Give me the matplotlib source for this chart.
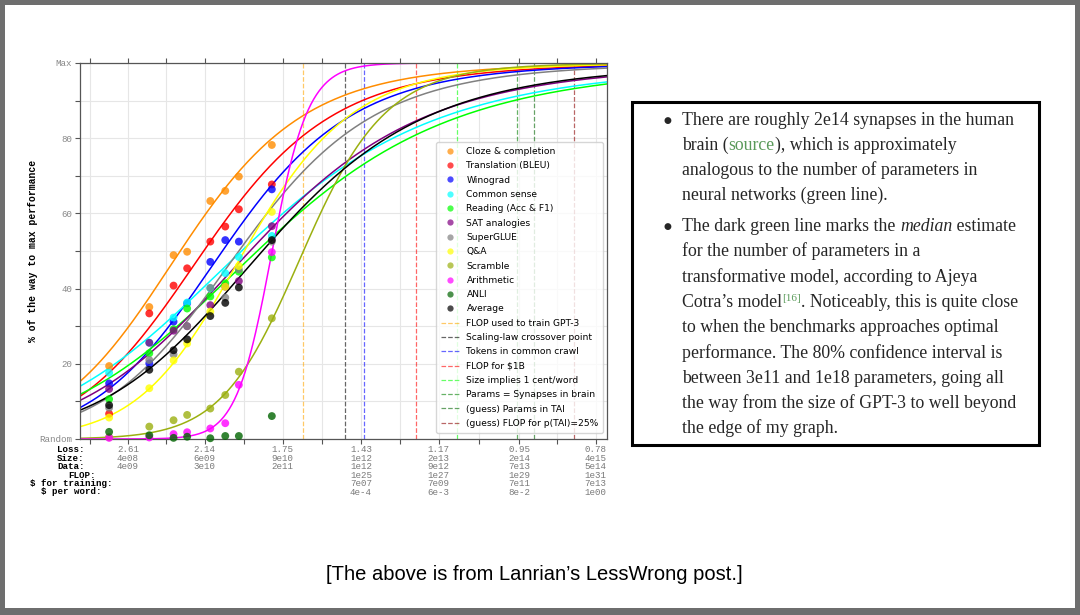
import numpy as np
import matplotlib
matplotlib.use('Agg')
import matplotlib.pyplot as plt
from matplotlib.patches import Rectangle
from matplotlib.lines import Line2D
from matplotlib.font_manager import FontProperties

W, H = 1080, 615

# GPT-3 model sizes, placed on the x axis by their loss
model_loss = [2.74, 2.47, 2.32, 2.24, 2.11, 2.03, 1.96, 1.80]

# benchmark scores, % of the way from random to max
cloze = [19.4, 35.1, 48.9, 49.8, 63.3, 66.0, 69.8, 78.2]
translation = [6.7, 33.4, 40.8, 45.4, 52.5, 56.5, 61.1, 67.7]
winograd = [14.8, 20.1, 31.2, 36.1, 47.1, 52.9, 52.5, 66.4]
common_sense = [17.6, 25.6, 32.3, 36.3, 40.1, 44.1, 48.4, 54.0]
reading = [10.6, 22.8, 29.2, 34.7, 37.9, 41.4, 44.5, 48.3]
sat = [13.3, 25.6, 28.8, 30.0, 35.6, 40.5, 42.0, 56.6]
superglue = [8.3, 21.0, 22.5, 30.0, 40.2, 37.6, 45.1, 52.5]
qa = [5.7, 13.5, 20.9, 25.4, 33.9, 40.5, 46.0, 60.4]
scramble = [0.5, 3.3, 5.0, 6.4, 8.1, 11.7, 17.9, 32.1]
arithmetic = [0.3, 0.4, 1.3, 1.8, 2.8, 4.2, 14.4, 49.7]
anli = [1.9, 1.0, 0.3, 0.6, 0.2, 0.8, 0.8, 6.1]
average = [9.0, 18.4, 23.6, 26.5, 32.7, 36.2, 40.3, 52.9]

names = ['Cloze & completion', 'Translation (BLEU)', 'Winograd', 'Common sense',
         'Reading (Acc & F1)', 'SAT analogies', 'SuperGLUE', 'Q&A', 'Scramble',
         'Arithmetic', 'ANLI', 'Average']
series = [cloze, translation, winograd, common_sense, reading, sat, superglue,
          qa, scramble, arithmetic, anli, average]
colors = ['darkorange', 'red', 'blue', 'cyan', 'lime', 'purple', 'gray',
          'yellow', '#9bb010', 'magenta', 'darkgreen', 'black']

# sigmoid fits: 100 / (1 + exp(k * (sqrt(loss) - s0)))
fit_k = [8.2, 8.1, 8.3, 5.6, 5.7, 6.4, 8.1, 10.3, 14.5, 32.0, None, 6.9]
fit_s0 = [1.51, 1.465, 1.43, 1.395, 1.367, 1.38, 1.40, 1.39, 1.288, 1.341, None, 1.358]

# reference lines (loss)
vline_loss = [1.66, 1.49, 1.418, 1.24, 1.115, 0.956, 0.915, 0.825]
vline_names = ['FLOP used to train GPT-3', 'Scaling-law crossover point',
               'Tokens in common crawl', 'FLOP for $1B', 'Size implies 1 cent/word',
               'Params = Synapses in brain', '(guess) Params in TAI',
               '(guess) FLOP for p(TAI)=25%']
vline_colors = ['orange', 'black', 'blue', 'red', 'lime', 'green', 'darkgreen', 'darkred']

# x tick label rows
row_names = ['Loss:', 'Size:', 'Data:', 'FLOP:', '\\$ for training:', '\\$ per word:']
loss_labels = ['2.61', '2.14', '1.75', '1.43', '1.17', '0.95', '0.78']
size_labels = ['4e08', '6e09', '9e10', '1e12', '2e13', '2e14', '4e15']
data_labels = ['4e09', '3e10', '2e11', '1e12', '9e12', '7e13', '5e14']
flop_labels = ['', '', '', '1e25', '1e27', '1e29', '1e31']
train_labels = ['', '', '', '7e07', '7e09', '7e11', '7e13']
word_labels = ['', '', '', '4e-4', '6e-3', '8e-2', '1e00']

fig = plt.figure(figsize=(W / 100, H / 100), dpi=100)
fig.patch.set_facecolor('#6e6e6e')
fig.add_artist(Rectangle((5 / W, 7 / H), 1070 / W, 603 / H, transform=fig.transFigure,
                         fc='white', ec='none', zorder=-10))

ax = fig.add_axes([80 / W, 1 - 439 / H, 527 / W, 376 / H])
ax.set_xscale('log')
xmin, xmax = 2.954, 0.7575
ax.set_xlim(xmin, xmax)
ax.set_ylim(0, 100)

# curves and points
L = np.geomspace(xmax, xmin, 400)
for vals, c, k, s0 in zip(series, colors, fit_k, fit_s0):
    if k is not None:
        ax.plot(L, 100 / (1 + np.exp(k * (np.sqrt(L) - s0))), color=c, lw=1.1, zorder=2)
for vals, c in zip(series, colors):
    ax.scatter(model_loss, vals, s=32, color=c, alpha=0.8, edgecolors='none',
               zorder=3, clip_on=False)

for xv, c in zip(vline_loss, vline_colors):
    ax.axvline(xv, color=c, ls='--', lw=0.9, alpha=0.6, zorder=1.5)

# ticks
label_pos = [float(s) for s in loss_labels]
ticks = [label_pos[0] * np.sqrt(label_pos[0] / label_pos[1])]
tick_text = ['']
for i, p in enumerate(label_pos):
    ticks.append(p)
    tick_text.append('\n'.join([loss_labels[i], size_labels[i], data_labels[i],
                                flop_labels[i], train_labels[i], word_labels[i]]).rstrip('\n'))
    if i < len(label_pos) - 1:
        ticks.append(np.sqrt(p * label_pos[i + 1]))
        tick_text.append('')
ax.set_xticks(ticks, tick_text, fontfamily='Liberation Mono', fontsize=6.6,
              color='#7a7a7a', linespacing=0.935)
ax.minorticks_off()
ax.set_yticks(range(0, 101, 10),
              ['Random', '', '20', '', '40', '', '60', '', '80', '', 'Max'],
              fontfamily='Liberation Mono', fontsize=6.6, color='#888888')
ax.tick_params(axis='both', length=3.5, width=0.8, color='#555555', pad=2)
ax.tick_params(axis='x', top=True, pad=1)
ax.grid(True, color='#e6e6e6', lw=0.8, zorder=0)
ax.set_axisbelow(True)
for sp in ax.spines.values():
    sp.set_color('#555555')
    sp.set_linewidth(0.9)

ax.set_ylabel('% of the way to max performance', family='Liberation Mono',
              weight='bold', fontsize=7)
ax.yaxis.set_label_coords((38 - 80) / 527, 0.5)

# row labels under the axis, one text per row
row_x = [71, 71, 71, 82, 71, 71]
for i, (name, rx) in enumerate(zip(row_names, row_x)):
    fig.text(rx / W, 1 - (445.5 + i * 8.4) / H, name, ha='center', va='top',
             family='Liberation Mono', weight='bold', fontsize=6.6)

# legend
handles = [Line2D([], [], ls='', marker='o', ms=4.5, color=c, alpha=0.7, mec='none')
           for c in colors]
handles += [Line2D([], [], ls='--', lw=0.9, color=c, alpha=0.6) for c in vline_colors]
ax.legend(handles, names + vline_names, loc='lower right', bbox_to_anchor=(0.993, 0.017),
          fontsize=6.6, labelspacing=0.58, handlelength=2.0, handletextpad=0.8,
          borderpad=0.5, borderaxespad=0, framealpha=0.8, edgecolor='#cccccc')

# text box on the right
fig.add_artist(Rectangle((632 / W, 1 - 445 / H), 407 / W, 343 / H, transform=fig.transFigure,
                         fill=False, ec='black', lw=2.2))

renderer = fig.canvas.get_renderer()
base = dict(family='Liberation Serif', size=12.8, color='#262626')


def rich(x, y, parts):
    for s, kw in parts:
        props = dict(base)
        props.update(kw)
        dy = props.pop('dy', 0)
        fig.text(x / W, 1 - (y - dy) / H, s, ha='left', va='baseline', **props)
        fp = FontProperties(family=props['family'], size=props['size'],
                            style=props.get('style', 'normal'))
        w1 = renderer.get_text_width_height_descent(s + '.', fp, ismath=False)[0]
        w0 = renderer.get_text_width_height_descent('.', fp, ismath=False)[0]
        x += w1 - w0


green = '#5a9a5a'
para1 = [
    [('There are roughly 2e14 synapses in the human', {})],
    [('brain (', {}), ('source', {'color': green}), ('), which is approximately', {})],
    [('analogous to the number of parameters in', {})],
    [('neural networks (green line).', {})],
]
para2 = [
    [('The dark green line marks the ', {}), ('median', {'style': 'italic'}),
     (' estimate', {})],
    [('for the number of parameters in a', {})],
    [('transformative model, according to Ajeya', {})],
    [('Cotra’s model', {}), ('[16]', {'color': green, 'size': 8, 'dy': 6}),
     ('. Noticeably, this is quite close', {})],
    [('to when the benchmarks approaches optimal', {})],
    [('performance. The 80% confidence interval is', {})],
    [('between 3e11 and 1e18 parameters, going all', {})],
    [('the way from the size of GPT-3 to well beyond', {})],
    [('the edge of my graph.', {})],
]
for start, step, para in [(125, 25.0, para1), (231, 25.3, para2)]:
    fig.text(667 / W, 1 - (start - 4) / H, '●', ha='center', va='center',
             family='DejaVu Sans', fontsize=6.5, color='#262626')
    for i, line in enumerate(para):
        rich(682, start + i * step, line)

fig.text(534 / W, 1 - 575 / H, '[The above is from Lanrian’s LessWrong post.]',
         ha='center', va='center', family='Liberation Sans', fontsize=14.5, color='black')

fig.savefig('out.png', dpi=100, facecolor=fig.get_facecolor())
